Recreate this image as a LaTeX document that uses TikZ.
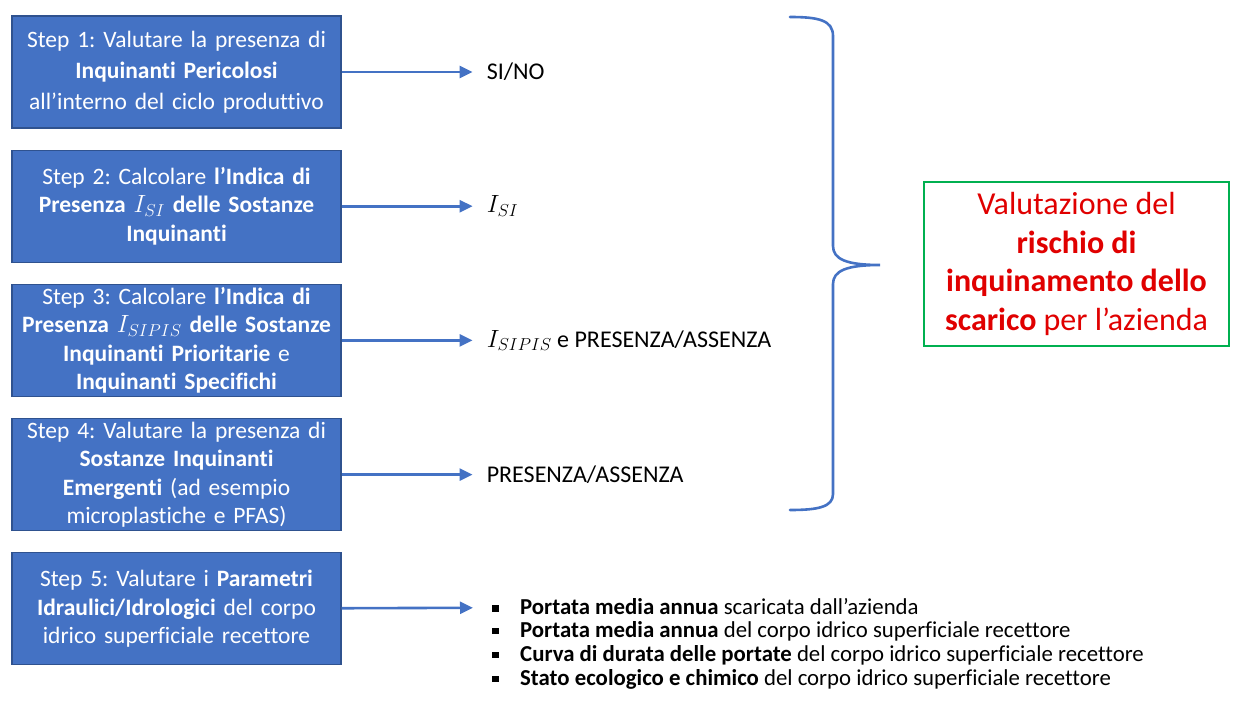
\documentclass[tikz,border=0pt]{standalone}
\usepackage{fontspec}
\setmainfont{Carlito}[Ligatures={TeX,NoCommon}]
\usetikzlibrary{positioning,arrows.meta}
\definecolor{stepblue}{HTML}{4472C4}
\definecolor{stepedge}{HTML}{2F528F}
\definecolor{okgreen}{HTML}{00B050}
\definecolor{riskred}{HTML}{E00000}
\frenchspacing

\begin{document}
\begin{tikzpicture}[x=1pt, y=-1pt,
        node distance=21pt and 131pt,
        stepbox/.style={draw=stepedge, line width=1.2pt, fill=stepblue, text=white,
                        font=\fontsize{23.5}{28.5}\selectfont, minimum width=329pt,
                        minimum height=112pt, text width=325pt, align=center,
                        inner sep=0pt},
        outlabel/.style={font=\fontsize{24}{26}\selectfont, inner ysep=0pt,
                         inner xsep=14pt, anchor=west},
        bullet/.style={font=\fontsize{22.8}{24}\selectfont, inner ysep=0pt,
                       inner xsep=19pt, anchor=west},
        riskbox/.style={draw=okgreen, line width=2.5pt, text=riskred,
                        font=\fontsize{32}{38.5}\selectfont, minimum width=305pt,
                        minimum height=164pt, align=center},
        arr/.style={-{Triangle[length=13pt,width=12pt]}, line width=2.6pt, stepblue},
        brace/.style={line width=2.6pt, stepblue, line cap=round}
    ]
        \useasboundingbox (0,0) rectangle (1233,706);

        % steps
        \node[stepbox, font=\fontsize{23.5}{31}\selectfont] (s1) at (176.5,72)
            {Step 1: Valutare la presenza di\\ \textbf{Inquinanti Pericolosi}\\ all'interno del ciclo produttivo};
        \node[stepbox, below=of s1] (s2)
            {Step 2: Calcolare \textbf{l'Indica di}\\ \textbf{Presenza $I_{SI}$ delle Sostanze}\\ \textbf{Inquinanti}};
        \node[stepbox, below=of s2] (s3)
            {Step 3: Calcolare \textbf{l'Indica di}\\ \textbf{Presenza $I_{SIPIS}$ delle Sostanze}\\ \textbf{Inquinanti Prioritarie} e\\ \textbf{Inquinanti Specifichi}};
        \node[stepbox, below=of s3] (s4)
            {Step 4: Valutare la presenza di\\ \textbf{Sostanze Inquinanti}\\ \textbf{Emergenti} (ad esempio\\ microplastiche e PFAS)};
        \node[stepbox, below=of s4] (s5)
            {Step 5: Valutare i \textbf{Parametri}\\ \textbf{Idraulici/Idrologici} del corpo\\ idrico superficiale recettore};

        % results
        \node[outlabel, right=of s1] (r1) {SI/NO};
        \node[outlabel, right=of s2] (r2) {$I_{SI}$};
        \node[outlabel, right=of s3] (r3) {$I_{SIPIS}$ e PRESENZA/ASSENZA};
        \node[outlabel, right=of s4] (r4) {PRESENZA/ASSENZA};

        \node[bullet] (b1) at (473,607) {\makebox[28pt][l]{\rule[3pt]{6.5pt}{6.5pt}}\textbf{Portata media annua} scaricata dall'azienda};
        \node[bullet] (b2) at (473,631) {\makebox[28pt][l]{\rule[3pt]{6.5pt}{6.5pt}}\textbf{Portata media annua} del corpo idrico superficiale recettore};
        \node[bullet] (b3) at (473,655) {\makebox[28pt][l]{\rule[3pt]{6.5pt}{6.5pt}}\textbf{Curva di durata delle portate} del corpo idrico superficiale recettore};
        \node[bullet] (b4) at (473,679) {\makebox[28pt][l]{\rule[3pt]{6.5pt}{6.5pt}}\textbf{Stato ecologico e chimico} del corpo idrico superficiale recettore};

        \draw[arr] (s1) -- (r1);
        \draw[arr] (s2) -- (r2);
        \draw[arr] (s3) -- (r3);
        \draw[arr] (s4) -- (r4);
        \draw[arr] (s5) -- (b1);

        % brace and outcome
        \draw[brace] (790,17) .. controls (818,17) and (833,20) .. (833,36)
            -- (833,246) .. controls (833,259) and (846,265) .. (880,265)
            .. controls (846,265) and (833,271) .. (833,284)
            -- (833,494) .. controls (833,507) and (818,510) .. (790,510);

        \node[riskbox] (risk) at (1076.5,264)
            {Valutazione del\\ \textbf{rischio di}\\ \textbf{inquinamento dello}\\ \textbf{scarico} per l'azienda};
    \end{tikzpicture}
\end{document}
